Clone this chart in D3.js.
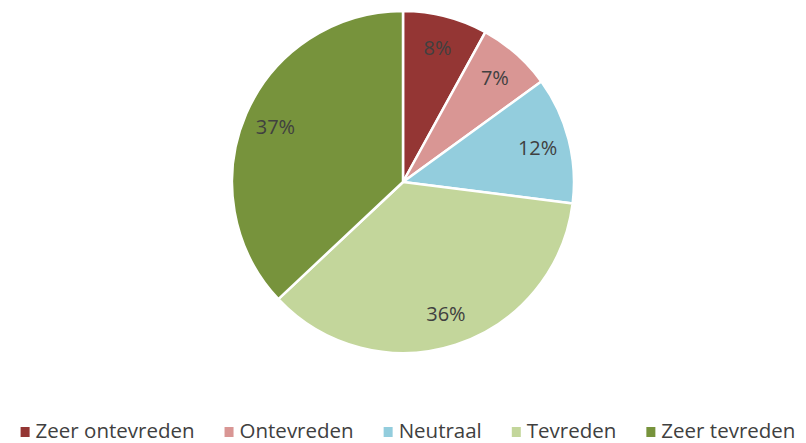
<!DOCTYPE html>
<html>
<head>
<meta charset="utf-8">
<script src="https://cdn.jsdelivr.net/npm/d3@7"></script>
<style>
  body { margin: 0; background: #fff; }
  text { font-family: "Open Sans", Lato, sans-serif; fill: #404040; }
</style>
</head>
<body>
<div id="chart"></div>
<script>
// satisfaction categories and shares (percent)
const categories = ["Zeer ontevreden", "Ontevreden", "Neutraal", "Tevreden", "Zeer tevreden"];
const values = [8, 7, 12, 36, 37];
const colors = ["#943634", "#D99694", "#93CDDD", "#C3D69B", "#77933C"];

const width = 806;
const height = 443;
const radius = 171;
const cx = 403, cy = 182;

const svg = d3.select("#chart")
  .append("svg")
  .attr("width", width)
  .attr("height", height);

const pie = d3.pie().sort(null).value(d => d);
const arcs = pie(values);

const arc = d3.arc().innerRadius(0).outerRadius(radius);
const labelArc = d3.arc().innerRadius(139).outerRadius(139);

const g = svg.append("g").attr("transform", `translate(${cx},${cy})`);

g.selectAll("path")
  .data(arcs)
  .enter()
  .append("path")
  .attr("d", arc)
  .attr("fill", (d, i) => colors[i])
  .attr("stroke", "#fff")
  .attr("stroke-width", 2.5)
  .attr("stroke-linejoin", "round");

g.selectAll(".lbl")
  .data(arcs)
  .enter()
  .append("text")
  .attr("class", "lbl")
  .attr("transform", d => `translate(${labelArc.centroid(d)})`)
  .attr("text-anchor", "middle")
  .attr("dy", "0.36em")
  .style("font-size", "20px")
  .text(d => d.data + "%");

// legend along the bottom
const legend = svg.append("g").attr("transform", "translate(0,438)");
const items = legend.selectAll("g")
  .data(categories)
  .enter()
  .append("g");

items.append("rect")
  .attr("width", 9)
  .attr("height", 10)
  .attr("y", -11)
  .attr("fill", (d, i) => colors[i]);

items.append("text")
  .attr("x", 15)
  .style("font-size", "20.5px")
  .text(d => d);

const gap = 30;
let widths = [];
items.each(function () { widths.push(15 + this.querySelector("text").getComputedTextLength()); });
const total = d3.sum(widths) + gap * (widths.length - 1);
let x = 408 - total / 2;
items.attr("transform", (d, i) => {
  const t = `translate(${x},0)`;
  x += widths[i] + gap;
  return t;
});
</script>
</body>
</html>
